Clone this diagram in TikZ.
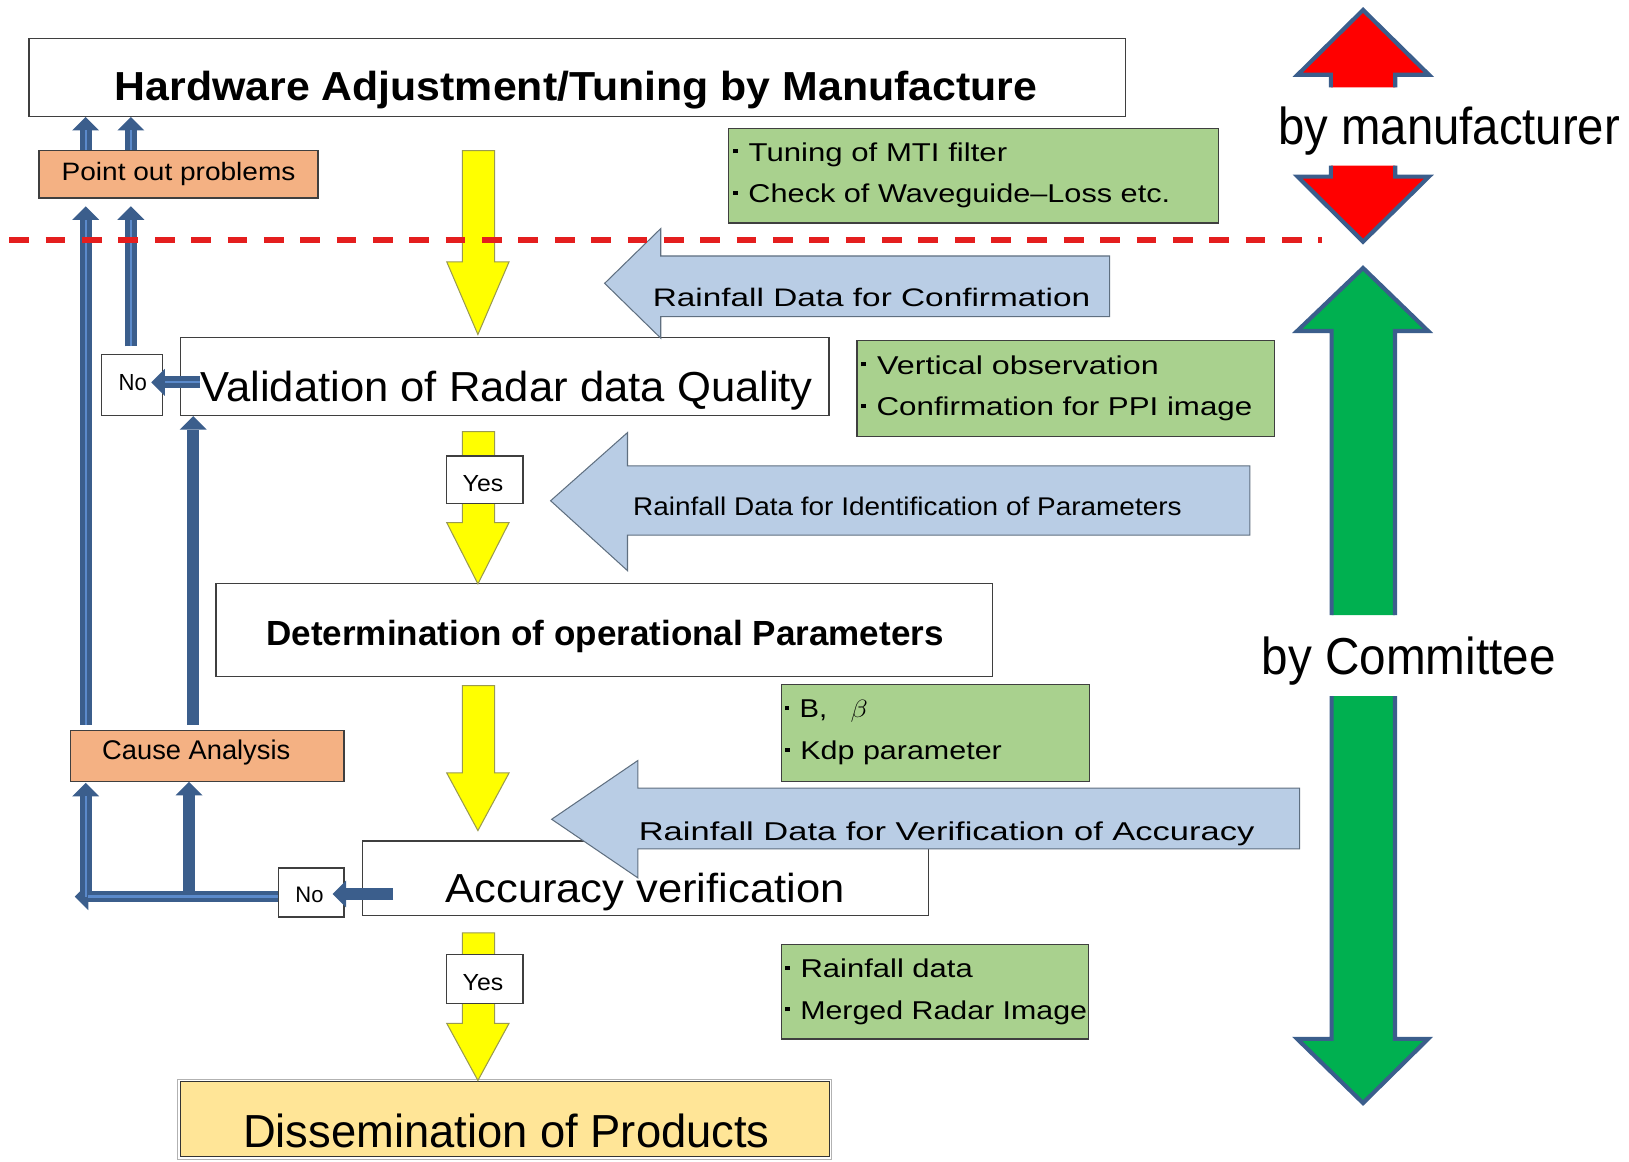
\documentclass[tikz,border=0pt]{standalone}
\usepackage{fontspec}
\setmainfont{Liberation Sans}
\usetikzlibrary{arrows.meta,fit}

\definecolor{flowblue}{HTML}{3B5E8C}
\definecolor{flowstripe}{HTML}{5B8ACB}
\definecolor{notegreen}{HTML}{A9D18E}
\definecolor{causeorange}{HTML}{F4B183}
\definecolor{datablue}{HTML}{B9CDE5}
\definecolor{dataedge}{HTML}{5F6F80}
\definecolor{stepyellow}{HTML}{FFFF00}
\definecolor{yellowedge}{HTML}{9A9A50}
\definecolor{productfill}{HTML}{FFE597}
\definecolor{boxedge}{HTML}{3F3F3F}
\definecolor{splitred}{HTML}{E41E1E}
\definecolor{rolered}{HTML}{FF0000}
\definecolor{rolegreen}{HTML}{00B050}

% font size helper, and a box squeezed or stretched to a given width (pt)
\newcommand\fs[1]{\fontsize{#1pt}{#1pt}\selectfont}
\newcommand\fitw[2]{\resizebox{#1pt}{\height}{#2}}
\newcommand\bul{\rule[0.3em]{0.16em}{0.16em}\hspace{0.35em}}

% yellow block arrow between process steps: top of shaft, start of head, tip
\newcommand\steparrow[3]{%
  \draw[stepbody] (445,#1) -- (476,#1) -- (476,#2) -- (490,#2) -- (460,#3)
    -- (430,#2) -- (445,#2) -- cycle;}
% light blue input arrow: tip x, tip y, head base x, head top, head bottom,
% shaft top, shaft bottom, right end
\newcommand\dataarrow[8]{%
  \draw[databody] (#8,#6) -- (#3,#6) -- (#3,#4) -- (#1,#2) -- (#3,#5)
    -- (#3,#7) -- (#8,#7) -- cycle;}

\begin{document}
\begin{tikzpicture}[x=0.5pt,y=-0.5pt,
  box/.style={draw=boxedge, line width=0.6pt, fill=white, inner sep=0pt},
  note/.style={box, fill=notegreen},
  cause/.style={box, fill=causeorange},
  lbl/.style={inner sep=0pt, anchor=base west},
  fb/.style={draw=flowblue, line width=5.6pt,
    -{Triangle[width=13pt,length=6.5pt,line width=0pt]}},
  fbs/.style={draw=flowstripe, line width=1.1pt},
  databody/.style={fill=datablue, draw=dataedge, line width=0.5pt},
  stepbody/.style={fill=stepyellow, draw=yellowedge, line width=0.5pt},
  roleedge/.style={draw=flowblue, line width=2pt, line join=miter},
]
\useasboundingbox (0,0) rectangle (1568,1118);

% ---------- process boxes ----------
\node[box, fit={(28,37) (1083,112)}] (hw) {};
\node[cause, fit={(37.5,145) (306,190.6)}] (pop) {};
\node[note, fit={(701,123.4) (1172.5,214.7)}] (n1) {};
\node[box, fit={(174,324.5) (798,400)}] (val) {};
\node[box, fit={(98,341) (156.5,400)}] (no1) {};
\node[note, fit={(825,328) (1227,420)}] (n2) {};
\node[box, fit={(208,561.4) (955,651)}] (det) {};
\node[note, fit={(752,659) (1049,752)}] (n3) {};
\node[cause, fit={(68,703) (331,752)}] (ca) {};
\node[box, fit={(348.6,809.5) (893.7,881.3)}] (acc) {};
\node[box, fit={(268,835.5) (331,882.6)}] (no2) {};
\node[note, fit={(752,909) (1048,1000)}] (n4) {};
\node[draw=gray!60, line width=0.5pt, inner sep=0pt,
      fit={(171,1038.8) (800.7,1116)}] (dis) {};
\draw[fill=productfill, draw=black!80, line width=0.6pt]
  ([shift={(1.5pt,-1.5pt)}]dis.north west) rectangle ([shift={(-1.5pt,1.5pt)}]dis.south east);

% ---------- yellow step arrows ----------
\steparrow{145}{252}{322}
\steparrow{415.5}{503}{562}
\steparrow{660}{744}{799.5}
\steparrow{898}{985}{1040}
\node[box, fit={(430,439) (503.5,485)}] (yes1) {};
\node[box, fit={(430,919) (503.5,966)}] (yes2) {};

% ---------- rainfall data inputs ----------
\dataarrow{582}{272.7}{636}{220}{325.5}{246.4}{304.8}{1068}
\dataarrow{530}{482}{604}{416.4}{549.3}{448.5}{515}{1203}
\dataarrow{531}{788.6}{614}{732}{845}{758.6}{817}{1251}

% ---------- texts ----------
\node[lbl, font=\fs{19.5}\bfseries] (hwt) at (110,97) {\fitw{444}{Hardware Adjustment/Tuning by Manufacture}};
\node[lbl, font=\fs{12.1}] (popt) at (59,174) {\fitw{112.5}{Point out problems}};
\node[lbl, font=\fs{12.4}] (n1a) at (705,155) {\fitw{132}{\bul Tuning of MTI filter}};
\node[lbl, font=\fs{12.4}] (n1b) at (705,195) {\fitw{210.5}{\bul Check of Waveguide--Loss etc.}};
\node[lbl, font=\fs{12.2}] (d1t) at (628,295) {\fitw{210.5}{Rainfall Data for Confirmation}};
\node[lbl, font=\fs{20.2}] (valt) at (192.5,386) {\fitw{294.75}{Validation of Radar data Quality}};
\node[lbl, font=\fs{11.2}] (no1t) at (113.8,375.4) {\fitw{13.6}{No}};
\node[lbl, font=\fs{12.4}] (n2a) at (828,360) {\fitw{143.5}{\bul Vertical observation}};
\node[lbl, font=\fs{12.4}] (n2b) at (828,400) {\fitw{188.5}{\bul Confirmation for PPI image}};
\node[lbl, font=\fs{11.2}] (yes1t) at (445,473) {\fitw{19.5}{Yes}};
\node[lbl, font=\fs{12.3}] (d2t) at (609,496) {\fitw{264}{Rainfall Data for Identification of Parameters}};
\node[lbl, font=\fs{16.8}\bfseries] (dett) at (256,621) {\fitw{326}{Determination of operational Parameters}};
\node[lbl, font=\fs{12.4}] (n3a) at (755,691) {\fitw{40}{\bul B,\hspace{0.8em}$\beta$}};
\node[lbl, font=\fs{12.4}] (n3b) at (755,731) {\fitw{104.5}{\bul Kdp parameter}};
\node[lbl, font=\fs{13}] (cat) at (98,731) {\fitw{90.5}{Cause Analysis}};
\node[lbl, font=\fs{12.4}] (d3t) at (614.5,809) {\fitw{296.25}{Rainfall Data for Verification of Accuracy}};
\node[lbl, font=\fs{19.5}] (acct) at (428.5,869) {\fitw{192}{Accuracy verification}};
\node[lbl, font=\fs{10.8}] (no2t) at (284,868.8) {\fitw{13.5}{No}};
\node[lbl, font=\fs{11.2}] (yes2t) at (445,953) {\fitw{19.5}{Yes}};
\node[lbl, font=\fs{12.4}] (n4a) at (755,941) {\fitw{90.5}{\bul Rainfall data}};
\node[lbl, font=\fs{12.4}] (n4b) at (755,981) {\fitw{145.5}{\bul Merged Radar Image}};
\node[lbl, font=\fs{22.3}] (dist) at (233.5,1105) {\fitw{253.5}{Dissemination of Products}};
\node[lbl, font=\fs{25}] (mant) at (1230,139.5) {\fitw{164.5}{by manufacturer}};
\node[lbl, font=\fs{25}] (comt) at (1214,649) {\fitw{141.5}{by Committee}};

% ---------- feedback connectors ----------
\coordinate (laneA) at (82.5,0);
\coordinate (laneB) at (126,0);
\coordinate (laneC) at (186,0);
\coordinate (laneD) at (182,0);
\coordinate (rowA) at (0,368);
\coordinate (rowB) at (0,863);
\coordinate (rowC) at (0,860.5);
\coordinate (barEnd) at (72,863);

\draw[fb] (laneA |- pop.north) -- (laneA |- hw.south);
\draw[fb] (laneB |- pop.north) -- (laneB |- hw.south);
\draw[fb, shorten <=2.5pt, shorten >=3.7pt] (laneA |- ca.north) -- (laneA |- pop.south);
\draw[fb, shorten <=3.5pt, shorten >=3.7pt] (laneB |- no1.north) -- (laneB |- pop.south);
\draw[fb, shorten <=-9.5pt, shorten >=-5.75pt] (rowA -| val.west) -- (rowA -| no1.east);
\draw[fb, shorten <=2.5pt] (laneC |- ca.north) -- (laneC |- val.south);
\draw[fb] (rowB -| no2.west) -- (barEnd);
\draw[fb, shorten >=0.5pt] (laneA |- rowB) -- (laneA |- ca.south);
\draw[fb] (laneD |- rowB) -- (laneD |- ca.south);
\draw[fb, shorten <=-15.2pt, shorten >=-5.75pt] (rowC -| acc.west) -- (rowC -| no2.east);

% light centre lines of the feedback arrows
\draw[fbs, shorten >=6.5pt] (laneA |- pop.north) -- (laneA |- hw.south);
\draw[fbs, shorten >=6.5pt] (laneB |- pop.north) -- (laneB |- hw.south);
\draw[fbs, shorten <=2.5pt, shorten >=10.2pt] (laneA |- ca.north) -- (laneA |- pop.south);
\draw[fbs, shorten <=3.5pt, shorten >=10.2pt] (laneB |- no1.north) -- (laneB |- pop.south);
\draw[fbs, shorten <=-9.5pt, shorten >=0.75pt] (rowA -| val.west) -- (rowA -| no1.east);
\draw[fbs, shorten >=6.5pt] (rowB -| no2.west) -- (barEnd);
\draw[fbs, shorten >=7pt] (laneA |- rowB) -- (laneA |- ca.south);

% ---------- responsibility arrows ----------
\fill[rolered] (1281,84) -- (1281,72) -- (1249,72) -- (1312,9.6) -- (1375.4,72) -- (1343,72) -- (1343,84) -- cycle;
\draw[roleedge] (1281,84) -- (1281,72) -- (1249,72) -- (1312,9.6) -- (1375.4,72) -- (1343,72) -- (1343,84);
\fill[rolered] (1281,159.5) -- (1281,170) -- (1249,170) -- (1312,232.6) -- (1375.4,170) -- (1343,170) -- (1343,159.5) -- cycle;
\draw[roleedge] (1281,159.5) -- (1281,170) -- (1249,170) -- (1312,232.6) -- (1375.4,170) -- (1343,170) -- (1343,159.5);
\fill[rolegreen] (1281.7,592) -- (1281.7,318.6) -- (1248.6,318.6) -- (1312,258) -- (1374.6,318.6) -- (1342.7,318.6) -- (1342.7,592) -- cycle;
\draw[roleedge] (1281.7,592) -- (1281.7,318.6) -- (1248.6,318.6) -- (1312,258) -- (1374.6,318.6) -- (1342.7,318.6) -- (1342.7,592);
\fill[rolegreen] (1281.7,670) -- (1281.7,1000) -- (1248.6,1000) -- (1312,1061.7) -- (1374.6,1000) -- (1342.7,1000) -- (1342.7,670) -- cycle;
\draw[roleedge] (1281.7,670) -- (1281.7,1000) -- (1248.6,1000) -- (1312,1061.7) -- (1374.6,1000) -- (1342.7,1000) -- (1342.7,670);

% ---------- boundary between manufacturer and committee ----------
\draw[splitred, line width=2.6pt, dash pattern=on 9.5pt off 8pt] (9,231) -- (1272,231);
\end{tikzpicture}
\end{document}
